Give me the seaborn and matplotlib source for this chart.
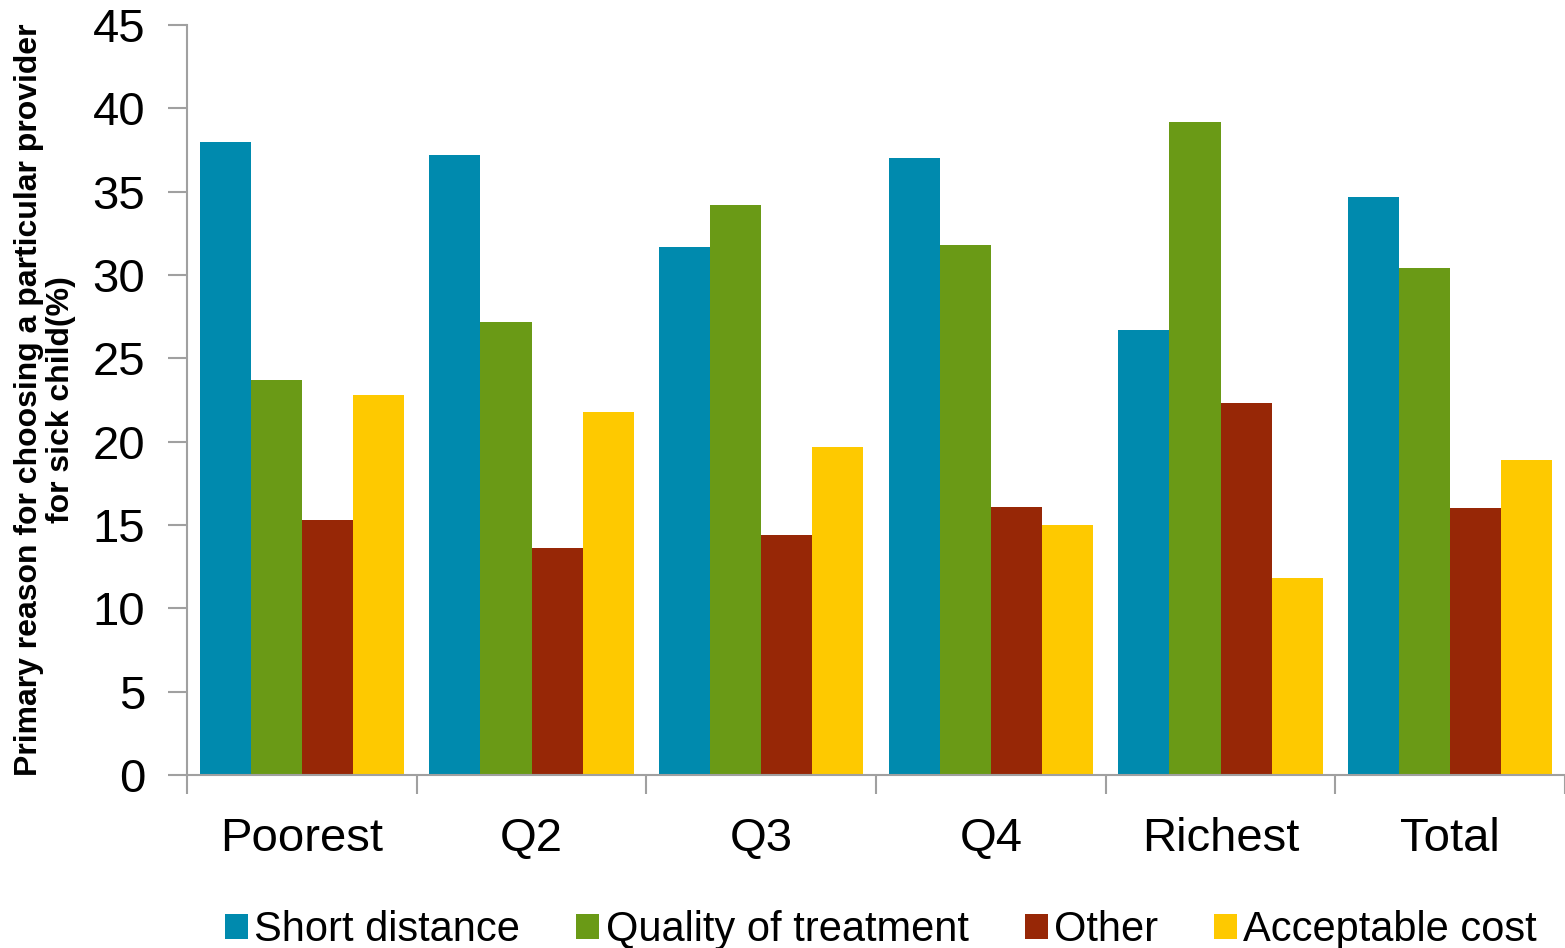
import pandas as pd
import numpy as np
import matplotlib.pyplot as plt
import seaborn as sns

quintiles = ['Poorest', 'Q2', 'Q3', 'Q4', 'Richest', 'Total']
reasons = ['Short distance', 'Quality of treatment', 'Other', 'Acceptable cost']
short_distance = [38.0, 37.2, 31.7, 37.0, 26.7, 34.7]
quality_treatment = [23.7, 27.2, 34.2, 31.8, 39.2, 30.4]
other = [15.3, 13.6, 14.4, 16.1, 22.3, 16.0]
acceptable_cost = [22.8, 21.8, 19.7, 15.0, 11.8, 18.9]
colores = ['#008AAE', '#6A9A16', '#972706', '#FEC900']

df = pd.DataFrame({
    'Quintile': quintiles * 4,
    'Reason': np.repeat(reasons, len(quintiles)),
    'Value': short_distance + quality_treatment + other + acceptable_cost,
})

sns.set_style('white')
plt.rcParams['font.family'] = ['Liberation Sans', 'DejaVu Sans']
plt.rcParams['text.color'] = 'black'
plt.rcParams['xtick.labelcolor'] = 'black'
plt.rcParams['ytick.labelcolor'] = 'black'
plt.rcParams['axes.labelcolor'] = 'black'

fig = plt.figure(figsize=(15.65, 9.48), dpi=100)
ax = fig.add_axes([0.1195, 0.1825, 0.8805, 0.7911])

sns.barplot(data=df, x='Quintile', y='Value', hue='Reason', order=quintiles,
            hue_order=reasons, palette=colores, width=0.89, gap=0,
            saturation=1, edgecolor='none', linewidth=0, ax=ax, legend=True)

ax.set_xlim(-0.5, 5.5)
ax.set_ylim(0, 45)
ax.set_yticks(range(0, 46, 5))
ax.tick_params(axis='y', labelsize=34, length=14, width=1.5, color='#A0A0A0',
               direction='out', left=True, pad=16)
ax.set_xticks(range(len(quintiles)))
ax.set_xticklabels(quintiles)
ax.tick_params(axis='x', which='major', labelsize=34, length=0, pad=30)
ax.set_xticks(np.arange(-0.5, 6, 1), minor=True)
ax.tick_params(axis='x', which='minor', length=14, width=1.5, color='#A0A0A0',
               direction='out', bottom=True)

for s in ['top', 'right']:
    ax.spines[s].set_visible(False)
for s in ['left', 'bottom']:
    ax.spines[s].set_color('#A0A0A0')
    ax.spines[s].set_linewidth(1.5)

ax.set_xlabel('')
ax.set_ylabel('Primary reason for choosing a particular provider\nfor sick child(%)',
              fontsize=23, fontweight='bold', labelpad=12, linespacing=1.1)

handles, labels = ax.get_legend_handles_labels()
ax.get_legend().remove()
fig.legend(handles, labels, loc='lower center', bbox_to_anchor=(0.563, -0.042),
           ncol=4, frameon=False, fontsize=30, handlelength=0.55, handleheight=0.55,
           handletextpad=0.15, columnspacing=1.35)

plt.savefig('out.png', dpi=100)
